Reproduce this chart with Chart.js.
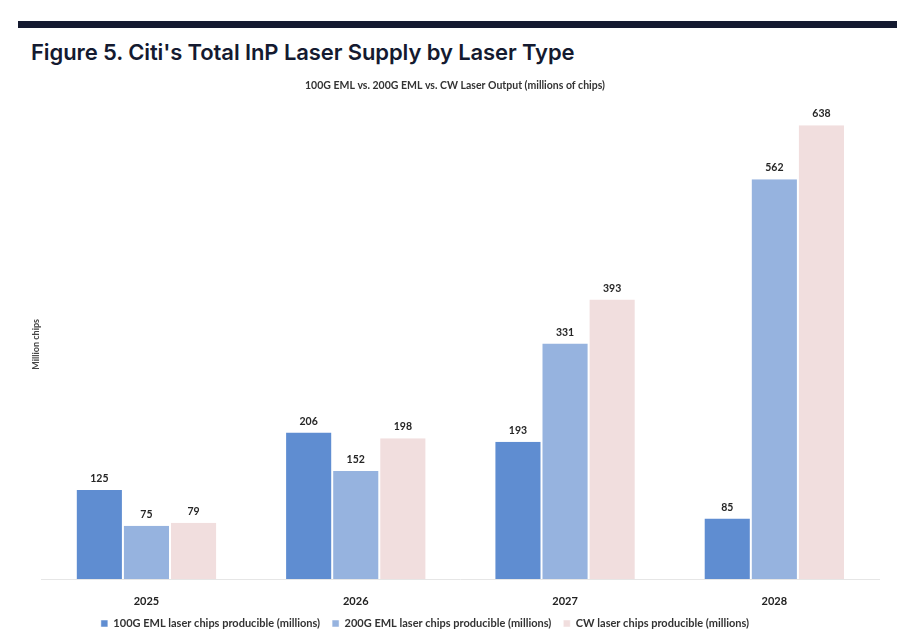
<!DOCTYPE html>
<html>
<head>
<meta charset="utf-8">
<script src="https://cdn.jsdelivr.net/npm/chart.js@4"></script>
<style>
  body { margin: 0; background: #fff; width: 916px; height: 644px; position: relative; overflow: hidden; }
  .topbar { position: absolute; left: 18px; top: 21px; width: 879px; height: 7px; background: #141a30; }
  h1 { position: absolute; left: 31px; top: 38px; margin: 0; font-family: Inter, sans-serif; font-weight: 600; font-size: 22px; line-height: 28px; color: #141a30; letter-spacing: -0.1px; }
  #wrap { position: absolute; left: 0; top: 70px; width: 916px; height: 574px; }
</style>
</head>
<body>
<div class="topbar"></div>
<h1>Figure 5. Citi's Total InP Laser Supply by Laser Type</h1>
<div id="wrap"><canvas id="laserChart"></canvas></div>
<script>
const years = ['2025', '2026', '2027', '2028'];
const eml100 = [125, 206, 193, 85];
const eml200 = [75, 152, 331, 562];
const cwLaser = [79, 198, 393, 638];

// value labels above bars
const barLabels = {
  id: 'barLabels',
  afterDatasetsDraw(chart) {
    const ctx = chart.ctx;
    ctx.save();
    ctx.font = 'bold 10.5px Lato, sans-serif';
    ctx.fillStyle = '#262626';
    ctx.textAlign = 'center';
    ctx.textBaseline = 'bottom';
    chart.data.datasets.forEach((ds, i) => {
      chart.getDatasetMeta(i).data.forEach((bar, j) => {
        ctx.fillText(ds.data[j], bar.x, bar.y - 6);
      });
    });
    ctx.restore();
  }
};

// legend sits a bit left of centre in the original
const legendShift = {
  id: 'legendShift',
  afterLayout(chart) {
    chart.legend.left -= 30;
    chart.legend.right -= 30;
  }
};

new Chart(document.getElementById('laserChart').getContext('2d'), {
  type: 'bar',
  data: {
    labels: years,
    datasets: [
      { label: '100G EML laser chips producible (millions)', data: eml100, backgroundColor: '#5f8dd1' },
      { label: '200G EML laser chips producible (millions)', data: eml200, backgroundColor: '#96b3df' },
      { label: 'CW laser chips producible (millions)', data: cwLaser, backgroundColor: '#f1dede' }
    ]
  },
  options: {
    responsive: true,
    maintainAspectRatio: false,
    animation: false,
    datasets: {
      bar: { categoryPercentage: 0.675, barPercentage: 1.0, borderColor: '#ffffff', borderWidth: { left: 1, right: 1 } }
    },
    layout: { padding: { left: 31, right: 37, top: 0, bottom: 5 } },
    scales: {
      x: {
        grid: { display: false, drawTicks: false },
        border: { display: true, color: '#e6e6e6' },
        ticks: { color: '#222', font: { family: 'Lato', weight: 'bold', size: 11 }, padding: 16 },
        afterFit(scale) { scale.height = 27; }
      },
      y: {
        min: 0,
        max: 660,
        grid: { display: false, drawTicks: false },
        border: { display: false },
        ticks: { display: false },
        title: { display: true, text: 'Million chips', color: '#444', padding: 0, font: { family: 'Lato', weight: 'bold', size: 9 } }
      }
    },
    plugins: {
      title: {
        display: true,
        text: '100G EML vs. 200G EML vs. CW Laser Output (millions of chips)',
        color: '#333',
        font: { family: 'Lato', weight: 'bold', size: 10.5 },
        padding: { top: 9, bottom: 18 }
      },
      legend: {
        position: 'bottom',
        labels: {
          boxWidth: 7,
          boxHeight: 7,
          padding: 12,
          color: '#333',
          font: { family: 'Lato', weight: 'bold', size: 11 }
        }
      },
      tooltip: { enabled: false }
    }
  },
  plugins: [barLabels, legendShift]
});
</script>
</body>
</html>
